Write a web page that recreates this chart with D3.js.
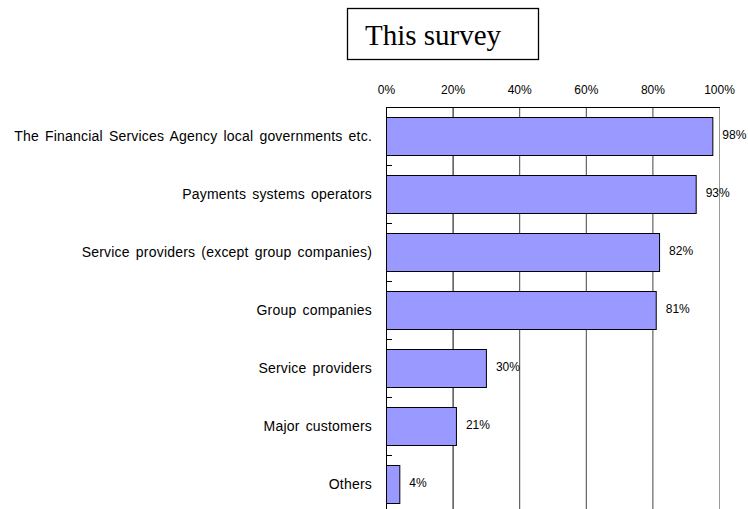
<!DOCTYPE html>
<html>
<head>
<meta charset="utf-8">
<script src="https://cdn.jsdelivr.net/npm/d3@7"></script>
<style>
  html, body { margin: 0; padding: 0; background: #fff; }
  svg { display: block; }
</style>
</head>
<body>
<svg id="chart" width="748" height="509"></svg>
<script>
// Survey categories and share of respondents (%)
const categories = [
  "The Financial Services Agency local governments etc.",
  "Payments systems operators",
  "Service providers (except group companies)",
  "Group companies",
  "Service providers",
  "Major customers",
  "Others"
];
const values = [98, 93, 82, 81, 30, 21, 4];
const tickValues = [0, 20, 40, 60, 80, 100];
const title = "This survey";

const svg = d3.select("#chart");
const plotLeft = 386, plotRight = 719, plotTop = 107;
const step = 58;
const plotBottom = plotTop + step * categories.length;
const sans = "Liberation Sans, Arial, sans-serif";

const x = d3.scaleLinear().domain([0, 100]).range([plotLeft, plotRight]);
const y = d3.scaleBand().domain(categories).range([plotTop, plotBottom])
  .paddingInner(20 / 58).paddingOuter(10 / 58);

// Title box
const tg = svg.append("g");
tg.append("rect").attr("x", 347.5).attr("y", 8.5).attr("width", 191).attr("height", 51)
  .attr("fill", "#fff").attr("stroke", "#000").attr("stroke-width", 1.3);
tg.append("text").attr("x", 365).attr("y", 45)
  .attr("font-family", "Liberation Serif, Times New Roman, serif").attr("font-size", 29)
  .attr("fill", "#000").text(title);

// Vertical gridlines
svg.append("g").selectAll("line").data(tickValues).join("line")
  .attr("x1", d => x(d) + 0.5).attr("x2", d => x(d) + 0.5)
  .attr("y1", plotTop).attr("y2", plotBottom)
  .attr("stroke", d => d === 100 ? "#999" : (d === 0 || d === 20 ? "#000" : "#444"))
  .attr("stroke-width", 1);

// Top border of plot area
svg.append("line").attr("x1", plotLeft).attr("x2", plotRight + 1)
  .attr("y1", plotTop + 0.5).attr("y2", plotTop + 0.5)
  .attr("stroke", "#000");

// Top percentage axis labels
const xAxis = d3.axisTop(x).tickValues(tickValues).tickFormat(d => d + "%").tickSize(0).tickPadding(0);
const xg = svg.append("g").attr("transform", `translate(0,${plotTop - 13})`).call(xAxis);
xg.select(".domain").remove();
xg.selectAll("text").attr("font-family", sans)
  .attr("font-size", 12).attr("fill", "#000");

// Category tick marks at band boundaries (inside the plot)
const bounds = d3.range(1, categories.length).map(i => plotTop + i * step);
svg.append("g").selectAll("line").data(bounds).join("line")
  .attr("x1", plotLeft).attr("x2", plotLeft + 6)
  .attr("y1", d => d + 0.5).attr("y2", d => d + 0.5)
  .attr("stroke", "#000");

// Bars
svg.append("g").selectAll("rect").data(values).join("rect")
  .attr("x", x(0) + 0.5)
  .attr("y", (d, i) => y(categories[i]) + 0.5)
  .attr("width", d => x(d) - x(0))
  .attr("height", y.bandwidth())
  .attr("fill", "#9999FF").attr("stroke", "#000").attr("stroke-width", 1);

// Left axis line
svg.append("line").attr("x1", plotLeft + 0.5).attr("x2", plotLeft + 0.5)
  .attr("y1", plotTop).attr("y2", plotBottom)
  .attr("stroke", "#000");

// Category labels
svg.append("g").selectAll("text").data(categories).join("text")
  .attr("x", 372).attr("y", d => y(d) + y.bandwidth() / 2)
  .attr("dy", "0.35em").attr("text-anchor", "end")
  .attr("font-family", sans).attr("font-size", 14)
  .attr("letter-spacing", 0.2).attr("word-spacing", 2)
  .attr("fill", "#000").text(d => d);

// Value labels
svg.append("g").selectAll("text").data(values).join("text")
  .attr("x", d => x(d) + 10).attr("y", (d, i) => y(categories[i]) + y.bandwidth() / 2 - 1)
  .attr("dy", "0.35em")
  .attr("font-family", sans).attr("font-size", 12)
  .attr("fill", "#000").text(d => d + "%");
</script>
</body>
</html>
